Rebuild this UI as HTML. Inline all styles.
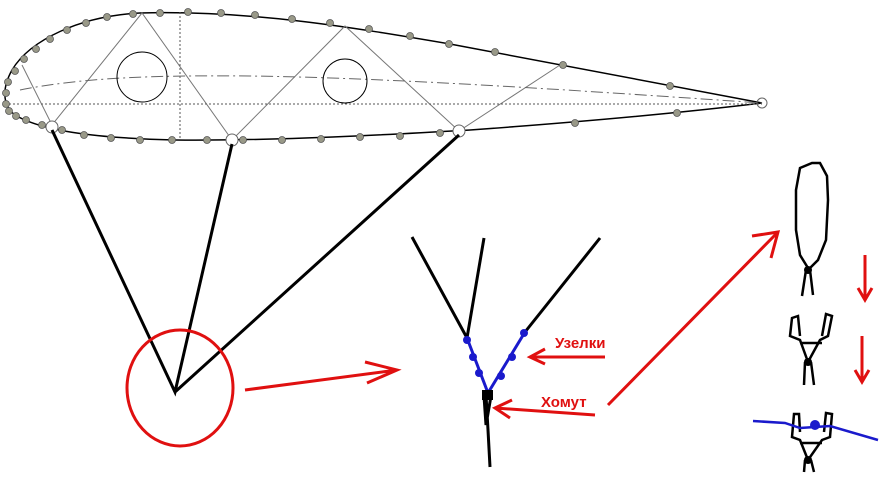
<!DOCTYPE html>
<html><head><meta charset="utf-8"><style>body{margin:0;background:#fff}svg{display:block}</style></head><body>
<svg width="884" height="499" viewBox="0 0 884 499" xmlns="http://www.w3.org/2000/svg">
<g fill="none">
<path d="M762,103 C700,92 600,72 450,44 C350,27 250,10 140,13 C80,16 30,40 12,70 C2,88 2,105 15,115 C40,130 90,138 175,140 C280,141 400,134 470,130 C580,122 680,113 762,103" stroke="#000" stroke-width="1.5"/>
<g stroke="#777" stroke-width="1">
<path d="M22,65 L52,125 L142,13 L232,140 L345,26 L459,131 L560,65"/>
</g>
<path d="M180,12 V140" stroke="#555" stroke-dasharray="2,2"/>
<path d="M5,104 H762" stroke="#555" stroke-dasharray="2,2"/>
<path d="M20,90 C80,78 150,75 250,76 C400,78 600,92 762,103" stroke="#666" stroke-dasharray="12,4,2,4"/>
<circle cx="142" cy="77" r="25" stroke="#000"/>
<circle cx="345" cy="81" r="22" stroke="#000"/>
<g stroke="#666"><circle cx="52" cy="127" r="6" fill="#fff"/><circle cx="232" cy="140" r="6" fill="#fff"/><circle cx="459" cy="131" r="6" fill="#fff"/><circle cx="762" cy="103" r="5"/></g>
</g>
<g fill="#999988" stroke="#555" stroke-width="0.8">
<circle cx="133" cy="14" r="3.5"/><circle cx="160" cy="13" r="3.5"/><circle cx="188" cy="12" r="3.5"/><circle cx="221" cy="13" r="3.5"/><circle cx="255" cy="15" r="3.5"/><circle cx="292" cy="19" r="3.5"/><circle cx="330" cy="23" r="3.5"/><circle cx="369" cy="29" r="3.5"/><circle cx="410" cy="36" r="3.5"/><circle cx="449" cy="44" r="3.5"/><circle cx="495" cy="52" r="3.5"/><circle cx="563" cy="65" r="3.5"/><circle cx="670" cy="86" r="3.5"/>
<circle cx="107" cy="17" r="3.5"/><circle cx="86" cy="23" r="3.5"/><circle cx="67" cy="30" r="3.5"/><circle cx="50" cy="39" r="3.5"/><circle cx="36" cy="49" r="3.5"/><circle cx="24" cy="59" r="3.5"/><circle cx="15" cy="71" r="3.5"/><circle cx="8" cy="82" r="3.5"/><circle cx="6" cy="93" r="3.5"/><circle cx="6" cy="104" r="3.5"/><circle cx="9" cy="111" r="3.5"/><circle cx="16" cy="116" r="3.5"/><circle cx="26" cy="120" r="3.5"/><circle cx="42" cy="125" r="3.5"/><circle cx="62" cy="130" r="3.5"/><circle cx="84" cy="135" r="3.5"/><circle cx="111" cy="138" r="3.5"/><circle cx="140" cy="140" r="3.5"/><circle cx="172" cy="140" r="3.5"/><circle cx="207" cy="140" r="3.5"/><circle cx="243" cy="140" r="3.5"/><circle cx="282" cy="140" r="3.5"/><circle cx="321" cy="139" r="3.5"/><circle cx="360" cy="137" r="3.5"/><circle cx="400" cy="136" r="3.5"/><circle cx="440" cy="133" r="3.5"/><circle cx="575" cy="123" r="3.5"/><circle cx="677" cy="113" r="3.5"/>
</g>
<g stroke="#000" stroke-width="3" fill="none">
<path d="M52,130 L175,392 L232,144 M175,392 L459,135"/>
<path d="M412,237 L467,338 L484,238 M600,238 L525,332"/>
<path d="M486,395 L488,430 L490,467 M484,396 L486,425 L491,396"/>
</g>
<g stroke="#1a1acc" stroke-width="3" fill="none"><path d="M467,338 L488,393 L525,332"/></g>
<g fill="#1a1acc"><circle cx="467" cy="340" r="4"/><circle cx="473" cy="357" r="4"/><circle cx="479" cy="373" r="4"/><circle cx="524" cy="333" r="4"/><circle cx="512" cy="357" r="4"/><circle cx="501" cy="376" r="4"/></g>
<rect x="482" y="390" width="11" height="10" fill="#000"/>
<g stroke="#e01010" stroke-width="3" fill="none">
<ellipse cx="180" cy="388" rx="53" ry="58"/>
<path d="M245,390 L397,370 M365,362 L397,370 L367,383"/>
<path d="M605,357 L530,357 M545,349 L530,357 L545,364"/>
<path d="M595,415 L495,408 M512,400 L495,408 L510,418"/>
<path d="M608,405 L778,232 M752,236 L778,232 L771,258"/>
<path d="M865,255 V298 M858,288 L865,300 L872,288"/>
<path d="M862,336 V380 M855,370 L862,382 L869,370"/>
</g>
<text x="555" y="348" font-family="Liberation Sans, sans-serif" font-weight="bold" font-size="15" fill="#e01010">Узелки</text>
<text x="541" y="407" font-family="Liberation Sans, sans-serif" font-weight="bold" font-size="15" fill="#e01010">Хомут</text>
<g stroke="#000" stroke-width="2.5" fill="none">
<path d="M808,268 L800,255 L796,230 L796,190 L800,168 L812,163 L820,163 L827,176 L828,200 L826,240 L818,260 L808,270 M806,270 L802,296 M810,270 L813,295"/>
<path d="M808,362 L800,340 L790,336 L792,318 L798,316 L800,336 M808,362 L820,340 L828,336 L832,316 L826,314 L822,336 M800,343 L822,343 M805,362 L804,385 M811,362 L814,385"/>
<path d="M808,460 L800,440 L792,437 L794,414 L799,414 L800,432 M808,460 L822,440 L830,437 L832,414 L826,413 L824,432 M800,443 L822,443 M805,460 L804,472 M811,460 L814,472"/>
</g>
<circle cx="808" cy="270" r="4"/><circle cx="808" cy="362" r="4"/><circle cx="808" cy="460" r="4"/>
<path d="M753,421 L785,423 L800,428 L830,426 L878,440" stroke="#1a1acc" stroke-width="2.5" fill="none"/>
<circle cx="815" cy="425" r="5" fill="#1a1acc"/>
</svg>
</body></html>
